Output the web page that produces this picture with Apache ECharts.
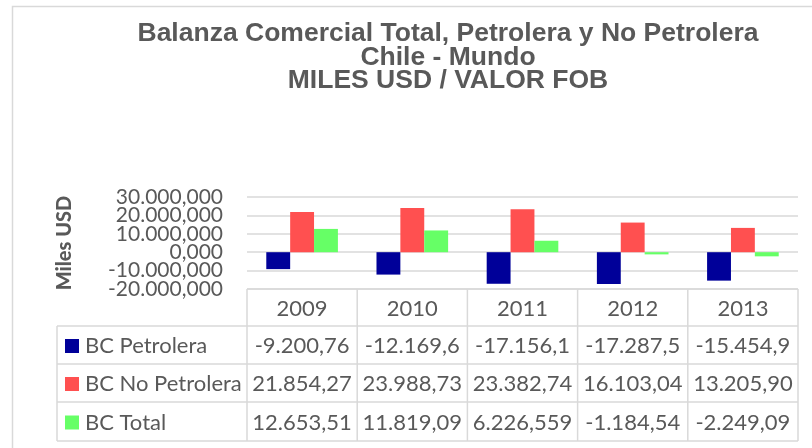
<!DOCTYPE html>
<html>
<head>
<meta charset="utf-8">
<script src="https://cdn.jsdelivr.net/npm/echarts@6/dist/echarts.min.js"></script>
<style>
  html, body { margin: 0; padding: 0; background: #fff; }
  #main { width: 812px; height: 448px; }
</style>
</head>
<body>
<div id="main"></div>
<script>
// datos
var years = ['2009', '2010', '2011', '2012', '2013'];
var seriesNames = ['BC Petrolera', 'BC No Petrolera', 'BC Total'];
var petrolera = [-9200.76, -12169.6, -17156.1, -17287.5, -15454.9];
var noPetrolera = [21854.27, 23988.73, 23382.74, 16103.04, 13205.90];
var total = [12653.51, 11819.09, 6226.559, -1184.54, -2249.09];
var colors = ['#000099', '#ff5050', '#66ff66'];

var textColor = '#595959';
var lineColor = '#d9d9d9';

// formato 1.234,567
function fmt(v, dec) {
  var neg = v < 0;
  var s = Math.abs(v).toFixed(dec);
  var parts = s.split('.');
  var ent = parts[0].replace(/\B(?=(\d{3})+(?!\d))/g, '.');
  return (neg ? '-' : '') + ent + (dec > 0 ? ',' + parts[1] : '');
}
// celda de tabla como en excel: 9 caracteres
function cell(v) {
  return fmt(v, 3).slice(0, 9);
}

var gLeft = 247, gRight = 798, gTop = 197, gBottom = 289;
var tabLeft = 57;
var rowY = [289, 326, 364, 402, 441];

function buildTable() {
  var els = [];
  var colW = (gRight - gLeft) / years.length;
  var line = function (x1, y1, x2, y2) {
    els.push({ type: 'line', shape: { x1: x1, y1: y1, x2: x2, y2: y2 },
      style: { stroke: lineColor, lineWidth: 1.5 }, silent: true });
  };
  // lineas
  line(gLeft, rowY[0], gRight, rowY[0]);
  for (var r = 1; r < rowY.length; r++) line(tabLeft, rowY[r], gRight, rowY[r]);
  for (var c = 0; c <= years.length; c++) line(gLeft + c * colW, rowY[0], gLeft + c * colW, rowY[4]);
  line(tabLeft, rowY[1], tabLeft, rowY[4]);

  var txt = function (x, y, t, align) {
    els.push({ type: 'text', x: x, y: y, silent: true,
      style: { text: t, fill: textColor, font: '22px Lato', align: align, verticalAlign: 'middle' } });
  };
  years.forEach(function (y, i) {
    txt(gLeft + (i + 0.5) * colW, (rowY[0] + rowY[1]) / 2 + 1, y, 'center');
  });
  var rows = [petrolera, noPetrolera, total];
  rows.forEach(function (vals, r) {
    var cy = (rowY[r + 1] + rowY[r + 2]) / 2 + 1;
    els.push({ type: 'rect', shape: { x: 65, y: cy - 7, width: 14, height: 14 },
      style: { fill: colors[r] }, silent: true });
    txt(85, cy, seriesNames[r], 'left');
    vals.forEach(function (v, i) {
      txt(gLeft + (i + 0.5) * colW, cy, cell(v), 'center');
    });
  });
  // borde exterior
  els.push({ type: 'rect', shape: { x: 12.5, y: 6.5, width: 900, height: 600 },
    style: { fill: 'none', stroke: lineColor, lineWidth: 1.5 }, silent: true });
  return els;
}

// dos ejes y con la misma escala: uno pone las etiquetas pares y otro las impares
// (asi no se ocultan por solaparse)
function yAxisFor(parity) {
  return {
    type: 'value',
    min: -20000,
    max: 30000,
    interval: 10000,
    position: 'left',
    name: parity === 0 ? 'Miles USD' : '',
    nameLocation: 'middle',
    nameRotate: 90,
    nameGap: 172,
    nameTextStyle: { fontFamily: 'Lato', fontWeight: 900, fontSize: 20, color: textColor },
    axisLine: { show: false },
    axisTick: { show: false },
    axisLabel: {
      margin: 24,
      fontFamily: 'Lato',
      fontSize: 21,
      color: textColor,
      showMinLabel: true,
      showMaxLabel: true,
      formatter: function (v) {
        var k = Math.round((v + 20000) / 10000);
        return k % 2 === parity ? fmt(v, 3) : '';
      }
    },
    splitLine: { show: parity === 0, showMinLine: true, showMaxLine: true,
      lineStyle: { color: lineColor, width: 1.5 } }
  };
}

var chart = echarts.init(document.getElementById('main'));
var option = {
  animation: false,
  title: {
    text: 'Balanza Comercial Total, Petrolera y No Petrolera\nChile - Mundo\nMILES USD / VALOR FOB',
    left: 443,
    top: 17,
    textAlign: 'center',
    textStyle: {
      fontFamily: 'Liberation Sans',
      fontWeight: 'bold',
      fontSize: 26.5,
      lineHeight: 23.5,
      color: textColor
    }
  },
  grid: {
    left: gLeft,
    right: 812 - gRight,
    top: gTop,
    bottom: 448 - gBottom
  },
  xAxis: {
    type: 'category',
    data: years,
    axisLine: { show: false },
    axisTick: { show: false },
    axisLabel: { show: false }
  },
  yAxis: [yAxisFor(0), yAxisFor(1)],
  series: [
    { name: seriesNames[0], type: 'bar', data: petrolera, itemStyle: { color: colors[0] },
      barGap: '0%', barCategoryGap: '35%' },
    { name: seriesNames[1], type: 'bar', data: noPetrolera, itemStyle: { color: colors[1] } },
    { name: seriesNames[2], type: 'bar', data: total, itemStyle: { color: colors[2] } }
  ],
  graphic: buildTable()
};
chart.setOption(option);
</script>
</body>
</html>
